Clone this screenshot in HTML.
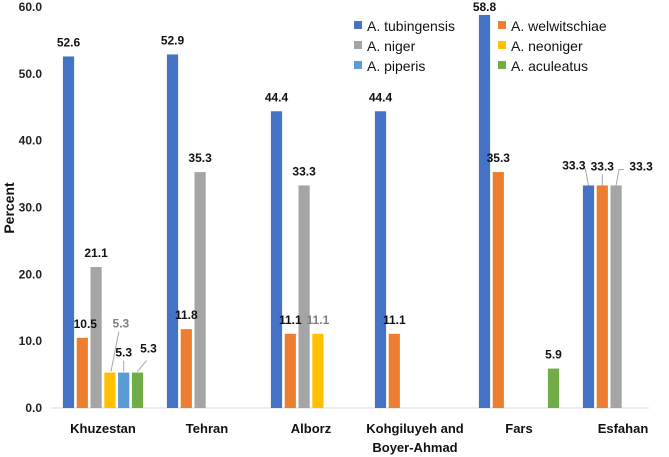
<!DOCTYPE html>
<html><head><meta charset="utf-8"><style>
body{margin:0;background:#fff;}
svg{display:block;font-family:"Liberation Sans",Arial,sans-serif;}
</style></head><body>
<svg id="chart" width="669" height="457" viewBox="0 0 669 457"></svg>
<script>
const categories = ["Khuzestan","Tehran","Alborz","Kohgiluyeh and|Boyer-Ahmad","Fars","Esfahan"];
const seriesNames = ["A. tubingensis","A. welwitschiae","A. niger","A. neoniger","A. piperis","A. aculeatus"];
const tubingensis = [52.6,52.9,44.4,44.4,58.8,33.3];
const welwitschiae = [10.5,11.8,11.1,11.1,35.3,33.3];
const niger = [21.1,35.3,33.3,0,0,33.3];
const neoniger = [5.3,0,11.1,0,0,0];
const piperis = [5.3,0,0,0,0,0];
const aculeatus = [5.3,0,0,0,5.9,0];
const yTicks = [0,10,20,30,40,50,60];
const colors = ["#4472c4","#ed7d31","#a5a5a5","#ffc000","#5b9bd5","#70ad47"];
const series = [tubingensis,welwitschiae,niger,neoniger,piperis,aculeatus];

const NS="http://www.w3.org/2000/svg";
const svg=document.getElementById('chart');
const x0=51, plotW=624, yBase=408, yTop=7, yMax=60;
const y=v=>yBase-(v/yMax)*(yBase-yTop);
const catW=plotW/categories.length;
const cx=i=>x0+catW*(i+0.5);
const step=13.8, bw=11.2;
function el(t,a,txt){const e=document.createElementNS(NS,t);for(const k in a)e.setAttribute(k,a[k]);if(txt!==undefined)e.textContent=txt;svg.appendChild(e);return e;}

const ax=el('line',{x1:x0,x2:649,y1:yBase,y2:yBase,stroke:'#d9d9d9','stroke-width':1});



yTicks.forEach(t=>{
  const tl=el('text',{x:42,y:y(t)+4,'text-anchor':'end','font-size':12,'font-weight':'bold',fill:'#222'},t.toFixed(1));
  
  
});
const yt=el('text',{x:0,y:0,transform:'translate(14,208) rotate(-90)','text-anchor':'middle','font-size':14,'font-weight':'bold',fill:'#111'},'Percent');



const labels=[];
categories.forEach((c,i)=>{
  const lines=c.split('|');
  lines.forEach((ln,j)=>{
    const t=el('text',{x:cx(i),y:433+j*19,'text-anchor':'middle','font-size':13,'font-weight':'bold',fill:'#111'},ln);
    
    
  });
  series.forEach((s,k)=>{
    const v=s[i]; if(!v) return;
    const bx=cx(i)-3*step+k*step+(step-bw)/2;
    const r=el('rect',{x:bx,y:y(v),width:bw,height:yBase-y(v),fill:colors[k]});
    
    
    let lx=bx+bw/2, ly=Math.max(y(v)-10,11), col='#111', lead=null;
    if(i===0&&k===1){lx=bx+bw/2+3;}
    if(i===0&&k===3){lx=bx+bw/2+11;ly=y(v)-45;col='#7f7f7f';lead=[bx+bw/2+1,y(v)-1,bx+bw/2+9,y(v)-41];}
    if(i===0&&k===4){ly=y(v)-16;lead=[bx+bw/2,y(v)-1,bx+bw/2,y(v)-12];}
    if(i===0&&k===5){lx=bx+bw/2+11;ly=y(v)-20;lead=[bx+bw/2,y(v)-1,bx+bw/2+9,y(v)-12];}
    if(i===2&&k===3){col='#7f7f7f';}
    if(i===5&&k===0){lx=bx-9;ly=y(v)-16;lead=[bx+bw/2,y(v),bx+bw/2-3,y(v)-16,bx+2,y(v)-17];}
    if(i===5&&k===1){ly=y(v)-15;lead=[bx+bw/2,y(v),bx+bw/2,y(v)-11];}
    if(i===5&&k===2){lx=bx+bw/2+25;ly=y(v)-15;lead=[bx+bw/2,y(v),bx+bw/2+3,y(v)-16,bx+bw/2+8,y(v)-16];}
    labels.push({lx,ly,col,lead,v});
  });
});
labels.forEach(L=>{
  if(L.lead){
    const pts=[];for(let q=0;q<L.lead.length;q+=2)pts.push(L.lead[q]+','+L.lead[q+1]);
    const pl=el('polyline',{points:pts.join(' '),fill:'none',stroke:'#a6a6a6','stroke-width':1});
    
    
  }
  const lt=el('text',{x:L.lx,y:L.ly,'text-anchor':'middle','font-size':12,'font-weight':'bold',fill:L.col},L.v.toFixed(1));
  
  
});

seriesNames.forEach((n,k)=>{
  const col=k%2, row=Math.floor(k/2);
  const lx=354+col*144, ly=26+row*20;
  const sq=el('rect',{x:lx,y:ly-5,width:8,height:8,fill:colors[k]});
  
  
  const t=el('text',{x:lx+13,y:ly+5,'font-size':14,fill:'#111'},n);
  
  
});
</script>
</body></html>
